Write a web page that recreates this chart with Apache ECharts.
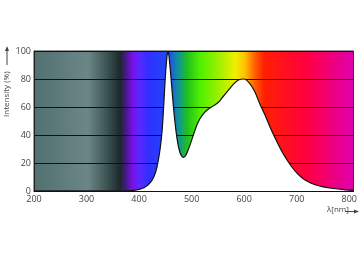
<!DOCTYPE html>
<html><head><meta charset="utf-8">
<script src="https://cdn.jsdelivr.net/npm/echarts@6/dist/echarts.min.js"></script>
<style>html,body{margin:0;padding:0;background:#fff}#c{width:360px;height:262px}</style>
</head><body><div id="c"></div>
<script>
const wavelength = [200,370,385,400,410,420,428,434,440,444,447,450,453,455,457,460,464,468,472,476,480,484,488,492,498,505,512,520,530,540,550,560,570,580,590,600,610,620,630,640,650,660,670,680,690,700,710,720,735,750,770,790,808];
const intensity  = [0,0,0.3,1.2,2.5,5.5,10,17,30,44,62,82,96,100,96,84,66,50,38,30,25.5,24,25,28,34,42,49,54,58,60.5,63,67.5,72,76.5,79.5,80,77,71,62,54,45,37,29.5,23,17.5,13,9.5,7,4.5,3,1.8,1,0.5];
const xTicks = [200,300,400,500,600,700,800];
const yTicks = [0,20,40,60,80,100];

const chart = echarts.init(document.getElementById('c'), null, {renderer:'canvas'});
const spectrum = new echarts.graphic.LinearGradient(0,0,1,0,[
  {offset:0.00,color:'#527070'},
  {offset:0.17,color:'#6b8686'},
  {offset:0.23,color:'#3c5252'},
  {offset:0.27,color:'#1c2a2b'},
  {offset:0.29,color:'#4a1890'},
  {offset:0.31,color:'#7a10e8'},
  {offset:0.33,color:'#5a28ff'},
  {offset:0.36,color:'#3030ff'},
  {offset:0.42,color:'#2048f8'},
  {offset:0.45,color:'#1090a0'},
  {offset:0.48,color:'#20c020'},
  {offset:0.52,color:'#50f000'},
  {offset:0.58,color:'#a0f000'},
  {offset:0.63,color:'#f0f000'},
  {offset:0.66,color:'#ffc000'},
  {offset:0.69,color:'#ff6000'},
  {offset:0.72,color:'#ff2000'},
  {offset:0.85,color:'#ff0040'},
  {offset:1.00,color:'#e000b0'}
]);
chart.setOption({
  animation:false,
  grid:{left:34,top:51,width:323,height:140,show:true,backgroundColor:spectrum,borderColor:'#333',borderWidth:1},
  xAxis:{type:'value',min:xTicks[0],max:808,interval:100,z:10,
    axisLine:{show:true,onZero:false,lineStyle:{color:'#111',width:1}},
    axisTick:{show:false},splitLine:{show:false},
    axisLabel:{margin:4,fontSize:9,color:'#444',fontFamily:'Open Sans',showMaxLabel:false,
      formatter:v=>xTicks.includes(v)?String(v):''}},
  yAxis:{type:'value',min:yTicks[0],max:100,interval:20,
    axisLine:{show:true,lineStyle:{color:'#222'}},axisTick:{show:false},
    splitLine:{show:true,lineStyle:{color:'#111',width:1}},
    axisLabel:{margin:3,fontSize:9,color:'#444',fontFamily:'Open Sans'}},
  series:[{type:'line',data:wavelength.map((w,i)=>[w,intensity[i]]),smooth:0.3,symbol:'none',
    lineStyle:{color:'#111',width:1.2},areaStyle:{color:'#fff',opacity:1},z:3}],
  graphic:[
    {type:'text',x:3,y:117,rotation:Math.PI/2,style:{text:'Intensity (%)',fontSize:8,fill:'#444',fontFamily:'Open Sans'}},
    {type:'line',shape:{x1:7,y1:65,x2:7,y2:50},style:{stroke:'#444',lineWidth:1}},
    {type:'polygon',shape:{points:[[7,46],[5,51],[9,51]]},style:{fill:'#444'}},
    {type:'text',x:327,y:206,style:{text:'λ[nm]',fontSize:8,fill:'#444',fontFamily:'Open Sans'}},
    {type:'line',shape:{x1:345,y1:211.5,x2:355,y2:211.5},style:{stroke:'#444',lineWidth:1}},
    {type:'polygon',shape:{points:[[359,211.5],[354,209.5],[354,213.5]]},style:{fill:'#444'}}
  ]
});
</script></body></html>
